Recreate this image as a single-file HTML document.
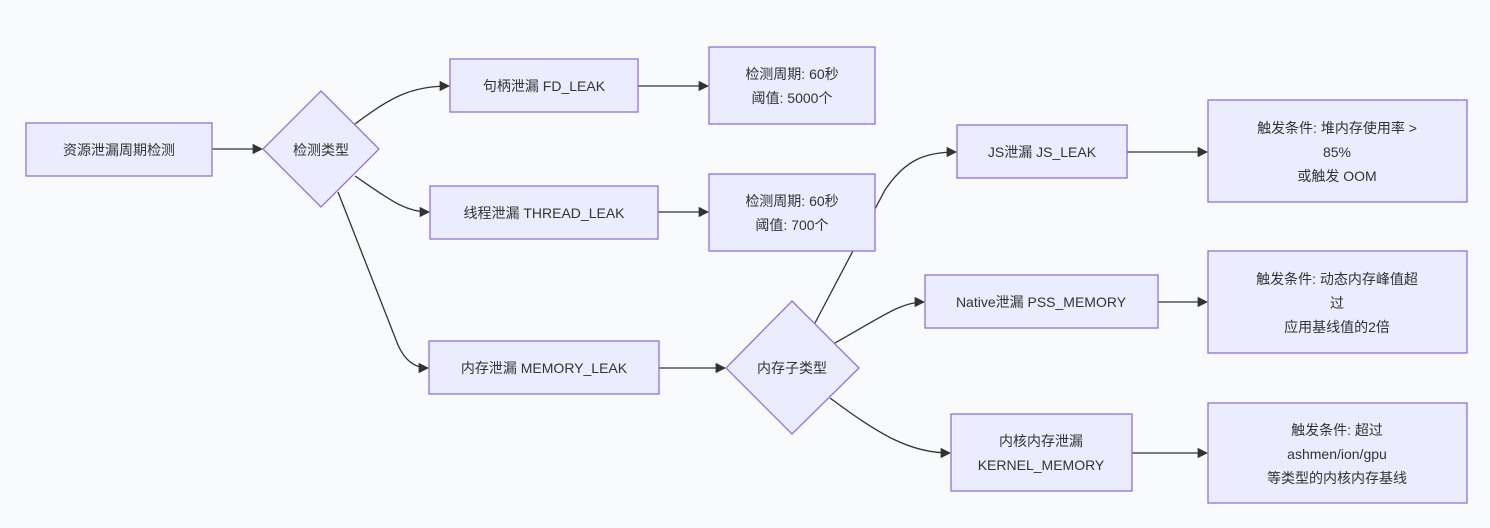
<!DOCTYPE html>
<html><head><meta charset="utf-8"><style>
html,body{margin:0;padding:0;background:#f9fafb;}
svg{display:block}
text{font-family:"Liberation Sans","Noto Sans CJK SC",sans-serif;font-size:14px;fill:#333;text-anchor:middle;dominant-baseline:central}
.n{fill:#ececff;stroke:#9370db;stroke-width:1.3}
.e{fill:none;stroke:#333;stroke-width:1.3}
</style></head><body>
<svg width="1490" height="528" viewBox="0 0 1490 528" xmlns="http://www.w3.org/2000/svg">
<defs><marker id="a" viewBox="0 0 10 10" refX="9" refY="5" markerWidth="8" markerHeight="8" orient="auto"><path d="M0,0 L10,5 L0,10 z" fill="#333"/></marker></defs>
<!-- edges -->
<path class="e" marker-end="url(#a)" d="M212,149 L262,149"/>
<path class="e" marker-end="url(#a)" d="M355,124 C390,98 410,86 449,86"/>
<path class="e" marker-end="url(#a)" d="M355,176 C390,200 405,212 429,212"/>
<path class="e" marker-end="url(#a)" d="M338,192 L398,345 Q408,368 428,368"/>
<path class="e" marker-end="url(#a)" d="M638,86 L708,86"/>
<path class="e" marker-end="url(#a)" d="M658,212 L708,212"/>
<path class="e" marker-end="url(#a)" d="M659,368 L725,368"/>
<path class="e" marker-end="url(#a)" d="M815,323 L885,190 C905,160 925,152 956,152"/>
<path class="e" marker-end="url(#a)" d="M835,343 C880,318 900,302 924,302"/>
<path class="e" marker-end="url(#a)" d="M830,398 C880,435 910,453 950,453"/>
<path class="e" marker-end="url(#a)" d="M1127,152 L1207,152"/>
<path class="e" marker-end="url(#a)" d="M1158,302 L1207,302"/>
<path class="e" marker-end="url(#a)" d="M1132,453 L1207,453"/>
<!-- nodes -->
<rect class="n" x="26" y="123" width="186" height="53"/><text x="119" y="150">资源泄漏周期检测</text>
<polygon class="n" points="321,91 379,149 321,207 263,149"/><text x="321" y="150">检测类型</text>
<rect class="n" x="450" y="59" width="188" height="53"/><text x="544" y="86">句柄泄漏 FD_LEAK</text>
<rect class="n" x="430" y="186" width="228" height="53"/><text x="544" y="213">线程泄漏 THREAD_LEAK</text>
<rect class="n" x="429" y="341" width="230" height="53"/><text x="544" y="368">内存泄漏 MEMORY_LEAK</text>
<rect class="n" x="709" y="47" width="166" height="77"/><text x="792" y="74">检测周期: 60秒</text><text x="792" y="98">阈值: 5000个</text>
<rect class="n" x="709" y="174" width="166" height="77"/><text x="792" y="201">检测周期: 60秒</text><text x="792" y="225">阈值: 700个</text>
<polygon class="n" points="792,301 859,368 792,434 726,368"/><text x="792" y="368">内存子类型</text>
<rect class="n" x="957" y="125" width="170" height="53"/><text x="1042" y="152">JS泄漏 JS_LEAK</text>
<rect class="n" x="925" y="275" width="233" height="53"/><text x="1041" y="302">Native泄漏 PSS_MEMORY</text>
<rect class="n" x="951" y="414" width="181" height="77"/><text x="1041" y="441">内核内存泄漏</text><text x="1041" y="465">KERNEL_MEMORY</text>
<rect class="n" x="1208" y="100" width="259" height="102"/><text x="1337" y="128">触发条件: 堆内存使用率 &gt;</text><text x="1337" y="152">85%</text><text x="1337" y="176">或触发 OOM</text>
<rect class="n" x="1208" y="251" width="259" height="102"/><text x="1337" y="279">触发条件: 动态内存峰值超</text><text x="1337" y="303">过</text><text x="1337" y="327">应用基线值的2倍</text>
<rect class="n" x="1208" y="403" width="259" height="100"/><text x="1337" y="430">触发条件: 超过</text><text x="1337" y="454">ashmen/ion/gpu</text><text x="1337" y="478">等类型的内核内存基线</text>
</svg>
</body></html>
